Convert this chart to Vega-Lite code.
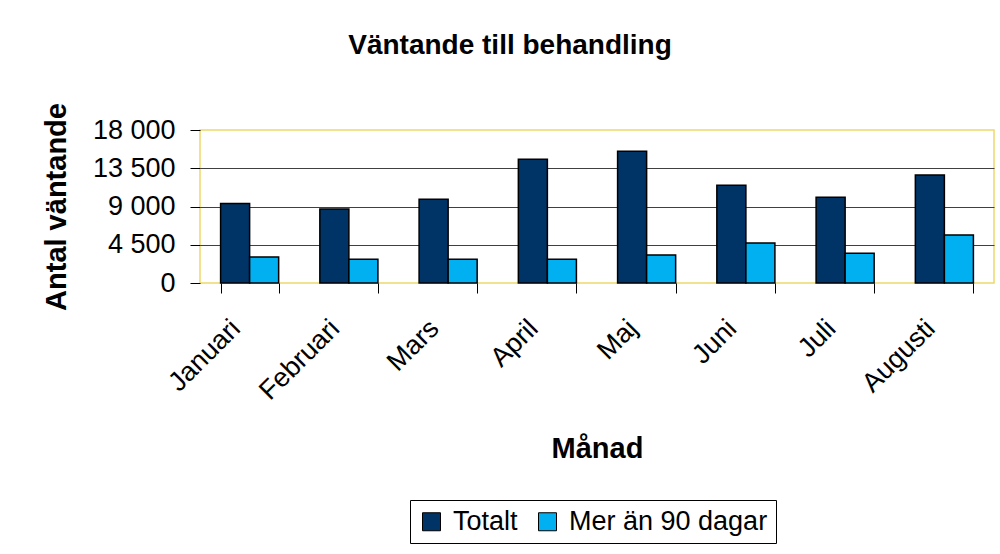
{
  "$schema": "https://vega.github.io/schema/vega-lite/v6.json",
  "autosize": "none",
  "width": 794,
  "height": 153,
  "padding": {"left": 200, "top": 130, "right": 6, "bottom": 271},
  "background": "white",
  "title": {
    "text": "Väntande till behandling",
    "anchor": "middle",
    "dx": -87,
    "offset": 21,
    "baseline": "alphabetic",
    "fontSize": 28,
    "fontWeight": "bold",
    "font": "Liberation Sans",
    "color": "black"
  },
  "data": {
    "values": [
      {"month": "Januari", "series": "Totalt", "value": 9350},
      {"month": "Januari", "series": "Mer än 90 dagar", "value": 3050},
      {"month": "Februari", "series": "Totalt", "value": 8700},
      {"month": "Februari", "series": "Mer än 90 dagar", "value": 2800},
      {"month": "Mars", "series": "Totalt", "value": 9850},
      {"month": "Mars", "series": "Mer än 90 dagar", "value": 2800},
      {"month": "April", "series": "Totalt", "value": 14550},
      {"month": "April", "series": "Mer än 90 dagar", "value": 2800},
      {"month": "Maj", "series": "Totalt", "value": 15500},
      {"month": "Maj", "series": "Mer än 90 dagar", "value": 3300},
      {"month": "Juni", "series": "Totalt", "value": 11500},
      {"month": "Juni", "series": "Mer än 90 dagar", "value": 4700},
      {"month": "Juli", "series": "Totalt", "value": 10100},
      {"month": "Juli", "series": "Mer än 90 dagar", "value": 3500},
      {"month": "Augusti", "series": "Totalt", "value": 12700},
      {"month": "Augusti", "series": "Mer än 90 dagar", "value": 5650}
    ]
  },
  "mark": {"type": "bar", "stroke": "black", "strokeWidth": 1.5},
  "encoding": {
    "x": {
      "field": "month",
      "type": "nominal",
      "sort": ["Januari", "Februari", "Mars", "April", "Maj", "Juni", "Juli", "Augusti"],
      "scale": {"paddingInner": 0.415, "paddingOuter": 0.2075},
      "axis": {
        "title": "Månad",
        "titleFontSize": 29,
        "titleFontWeight": "bold",
        "titleColor": "black",
        "titleBaseline": "alphabetic",
        "titleY": 174,
        "labelAngle": -45,
        "labelAlign": "right",
        "labelBaseline": "middle",
        "labelFontSize": 27,
        "labelColor": "black",
        "labelPadding": 31,
        "labelOffset": -14,
        "tickBand": "extent",
        "tickSize": 10,
        "tickColor": "black",
        "domain": false,
        "grid": false
      }
    },
    "xOffset": {
      "field": "series",
      "sort": ["Totalt", "Mer än 90 dagar"],
      "scale": {"paddingInner": 0}
    },
    "y": {
      "field": "value",
      "type": "quantitative",
      "scale": {"domain": [0, 18000], "nice": false},
      "axis": {
        "title": "Antal väntande",
        "titleFontSize": 29,
        "titleFontWeight": "bold",
        "titleColor": "black",
        "titleBaseline": "alphabetic",
        "titleX": -135,
        "titleY": 76.5,
        "values": [0, 4500, 9000, 13500, 18000],
        "labelExpr": "replace(format(datum.value, ','), ',', ' ')",
        "labelFontSize": 27,
        "labelColor": "black",
        "labelPadding": 15,
        "tickSize": 10,
        "tickColor": "black",
        "domain": false,
        "grid": true,
        "gridColor": {"condition": {"test": "datum.value == 0 || datum.value == 18000", "value": "transparent"}, "value": "#404040"},
        "gridWidth": 1
      }
    },
    "color": {
      "field": "series",
      "type": "nominal",
      "scale": {"domain": ["Totalt", "Mer än 90 dagar"], "range": ["#003366", "#00B0F0"]},
      "legend": {
        "title": null,
        "orient": "none",
        "legendX": 210,
        "legendY": 370,
        "direction": "horizontal",
        "strokeColor": "black",
        "fillColor": "white",
        "padding": 8,
        "symbolType": "square",
        "symbolSize": 324,
        "symbolStrokeColor": "black",
        "symbolStrokeWidth": 1,
        "symbolOpacity": 1,
        "labelFontSize": 27,
        "labelColor": "black",
        "labelLimit": 400,
        "labelOffset": 8,
        "columnPadding": 16
      }
    }
  },
  "config": {
    "font": "Liberation Sans",
    "view": {"stroke": "#EED86A", "strokeWidth": 1.5},
    "axis": {"labelFont": "Liberation Sans", "titleFont": "Liberation Sans"},
    "legend": {"labelFont": "Liberation Sans"}
  }
}
